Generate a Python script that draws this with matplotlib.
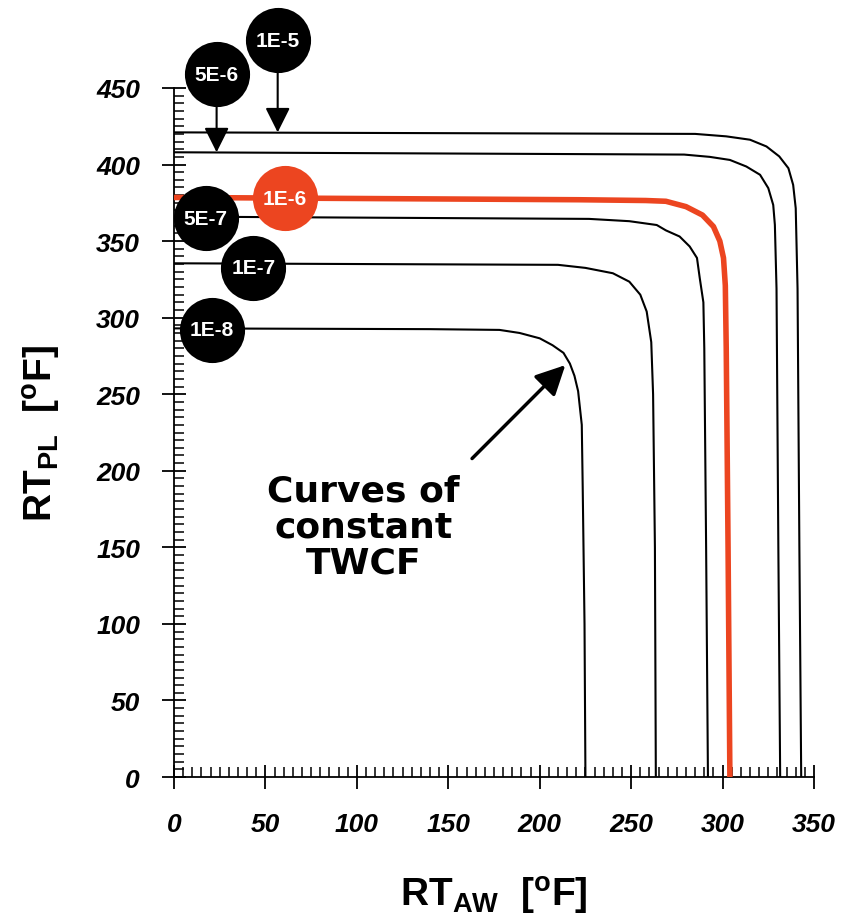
import numpy as np
import matplotlib
matplotlib.use("Agg")
import matplotlib.pyplot as plt
from matplotlib.ticker import MultipleLocator

plt.rcParams['font.family'] = ['Liberation Sans', 'DejaVu Sans']
plt.rcParams['mathtext.fontset'] = 'custom'
plt.rcParams['mathtext.rm'] = 'Liberation Sans:bold'
plt.rcParams['mathtext.bf'] = 'Liberation Sans:bold'

# curves of constant TWCF (RT_AW, RT_PL), one pair of lists per frequency
labels = ["1E-8", "1E-7", "5E-7", "1E-6", "5E-6", "1E-5"]

aw_1e8 = [0, 140, 178, 189, 200, 207, 213, 216.5, 219, 221, 222, 223, 223.5, 224.5, 225]
pl_1e8 = [293, 292.5, 292, 290, 286.5, 282, 277, 270, 262, 252, 241, 230, 190, 100, 0]

aw_1e7 = [0, 210, 225, 240, 249, 255, 258.5, 261, 262, 263, 263.5]
pl_1e7 = [335.5, 334.5, 332.5, 329, 323.5, 315, 304, 284, 250, 150, 0]

aw_5e7 = [0, 227, 249, 264, 269, 276.5, 282, 286, 287.5, 289.5, 290, 291, 292]
pl_5e7 = [366, 364.5, 363, 360.5, 357, 353, 346.5, 339, 326, 310, 280, 150, 0]

aw_1e6 = [0, 222, 258, 269, 280, 289, 295, 298.5, 300.5, 301.5, 302, 303, 304]
pl_1e6 = [378.5, 377, 376.5, 376, 372.5, 367, 359.5, 350, 339, 321, 280, 150, 0]

aw_5e6 = [0, 279, 293, 304, 313, 320.5, 325, 327.7, 328.6, 329.5, 330.5, 331.5]
pl_5e6 = [408, 406.5, 405, 403, 398.7, 393.3, 384.6, 373.6, 360.6, 319, 150, 0]

aw_1e5 = [0, 285, 302, 315, 324, 331, 336, 338.6, 340, 341, 342, 343]
pl_1e5 = [421, 420, 418.4, 416.2, 411.8, 405.3, 397.6, 386.7, 371.5, 319, 150, 0]

curves_aw = [aw_1e8, aw_1e7, aw_5e7, aw_1e6, aw_5e6, aw_1e5]
curves_pl = [pl_1e8, pl_1e7, pl_5e7, pl_1e6, pl_5e6, pl_1e5]

# where each frequency tag sits
tag_x = [20.6, 43.4, 17.3, 60.7, 23.3, 56.7]
tag_y = [292, 332.7, 365, 378, 459, 481]

RED = '#ec4520'

fig = plt.figure(figsize=(8.41, 9.2), dpi=100)
ax = fig.add_axes([0.2069, 0.1543, 0.761, 0.749])

for lab, x, y in zip(labels, curves_aw, curves_pl):
    if lab == "1E-6":
        ax.plot(x, y, color=RED, lw=4.0, solid_joinstyle='round', zorder=3)
    else:
        ax.plot(x, y, color='black', lw=1.5, zorder=2)

ax.set_xlim(0, 350)
ax.set_ylim(0, 450)
ax.spines['top'].set_visible(False)
ax.spines['right'].set_visible(False)
ax.spines['left'].set_linewidth(1.3)
ax.spines['bottom'].set_linewidth(1.3)

ax.xaxis.set_major_locator(MultipleLocator(50))
ax.xaxis.set_minor_locator(MultipleLocator(5))
ax.yaxis.set_major_locator(MultipleLocator(50))
ax.yaxis.set_minor_locator(MultipleLocator(5))
ax.tick_params(which='major', direction='inout', length=17, width=1.3)
ax.tick_params(which='minor', direction='in', length=7, width=1.1)
ax.tick_params(axis='x', which='major', pad=17)
ax.tick_params(axis='y', which='major', pad=16)
for t in ax.get_xticklabels() + ax.get_yticklabels():
    t.set_fontsize(19)
    t.set_fontweight('bold')
    t.set_fontstyle('italic')

ax.set_xlabel(r"RT$_{\rm AW}$  [$^{\rm o}$F]", fontsize=28, fontweight='bold', labelpad=27)
ax.set_ylabel(r"RT$_{\rm PL}$  [$^{\rm o}$F]", fontsize=28, fontweight='bold', labelpad=24)

# circular frequency tags
for lab, x, y in zip(labels, tag_x, tag_y):
    c = RED if lab == "1E-6" else 'black'
    ax.scatter([x], [y], s=2200, color=c, zorder=6, clip_on=False, linewidths=0)
    ax.text(x, y, lab, color='white', fontsize=15, fontweight='bold',
            ha='center', va='center', zorder=7, clip_on=False)

# pointers from the two upper tags down to their curves
ax.annotate("", xy=(23.3, pl_5e6[0]), xytext=(23.3, 440),
            arrowprops=dict(arrowstyle='-|>', color='black', lw=1.5,
                            mutation_scale=38, shrinkA=0, shrinkB=0),
            zorder=5, annotation_clip=False)
ax.annotate("", xy=(56.7, pl_1e5[0]), xytext=(56.7, 462),
            arrowprops=dict(arrowstyle='-|>', color='black', lw=1.5,
                            mutation_scale=38, shrinkA=0, shrinkB=0),
            zorder=5, annotation_clip=False)

ax.annotate("", xy=(214, 269), xytext=(163, 208),
            arrowprops=dict(arrowstyle='-|>', color='black', lw=2.5,
                            mutation_scale=45, shrinkA=0, shrinkB=0), zorder=5)
ax.text(103.5, 163.5, "Curves of\nconstant\nTWCF", family=['DejaVu Sans'],
        fontsize=26, fontweight='bold', ha='center', va='center',
        linespacing=1.08, zorder=5)

fig.savefig("out.png", dpi=100)
